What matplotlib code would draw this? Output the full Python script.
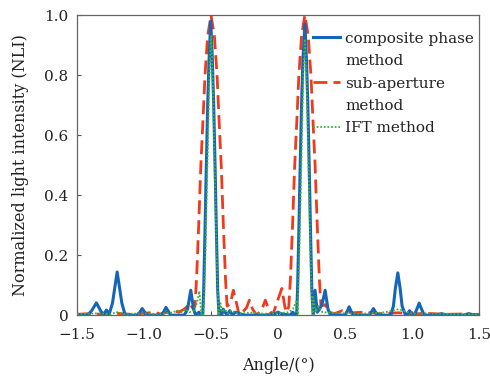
import matplotlib
matplotlib.use("Agg")
import matplotlib.pyplot as plt
from matplotlib.lines import Line2D

# ── Data (angle in degrees, normalized intensity) ──
x_composite = [-1.5, -1.42, -1.39, -1.355, -1.32, -1.30, -1.28, -1.26, -1.235, -1.20, -1.165,
               -1.14, -1.05, -1.03, -1.013, -0.995, -0.975, -0.87, -0.852, -0.836, -0.818,
               -0.80, -0.70, -0.675, -0.651, -0.63, -0.615, -0.59, -0.575,
               -0.562, -0.555, -0.545, -0.535, -0.525, -0.515, -0.502, -0.49, -0.48, -0.47,
               -0.46, -0.45, -0.44, -0.43, -0.42, -0.41, -0.38, -0.36, -0.34, -0.32,
               -0.25, -0.10, -0.02, 0.0, 0.02, 0.09, 0.11, 0.125,
               0.138, 0.145, 0.155, 0.165, 0.175, 0.185, 0.20, 0.212, 0.222, 0.232,
               0.242, 0.252, 0.262, 0.276, 0.292, 0.31, 0.33, 0.351, 0.372, 0.39,
               0.50, 0.515, 0.53, 0.545, 0.56, 0.68, 0.695, 0.711, 0.727, 0.74,
               0.84, 0.86, 0.875, 0.893, 0.91, 0.925, 0.95, 0.965, 0.98, 0.995,
               1.015, 1.035, 1.052, 1.07, 1.09, 1.18, 1.22, 1.26, 1.38, 1.42, 1.46, 1.5]
y_composite = [0.0, 0.0, 0.015, 0.041, 0.012, 0.003, 0.017, 0.003, 0.04, 0.144, 0.04,
               0.0, 0.0, 0.01, 0.022, 0.01, 0.0, 0.0, 0.012, 0.026, 0.012,
               0.0, 0.0, 0.02, 0.083, 0.02, 0.0, 0.01, 0.0,
               0.0, 0.08, 0.28, 0.5, 0.7, 0.85, 0.98, 0.85, 0.7, 0.5,
               0.28, 0.08, 0.0, 0.015, 0.0, 0.02, 0.0, 0.015, 0.0, 0.01,
               0.0, 0.0, 0.005, 0.01, 0.005, 0.0, 0.01, 0.0,
               0.0, 0.08, 0.28, 0.5, 0.7, 0.85, 0.97, 0.85, 0.7, 0.5,
               0.28, 0.08, 0.0, 0.083, 0.01, 0.02, 0.04, 0.083, 0.02, 0.0,
               0.0, 0.012, 0.028, 0.012, 0.0, 0.0, 0.01, 0.022, 0.01, 0.0,
               0.0, 0.03, 0.09, 0.141, 0.09, 0.03, 0.0, 0.005, 0.015, 0.005,
               0.0, 0.02, 0.04, 0.02, 0.0, 0.0, 0.005, 0.0, 0.0, 0.005, 0.0, 0.0]

x_subaperture = [-1.5, -1.4, -1.3, -1.2, -1.1, -1.0, -0.92, -0.88, -0.84, -0.78, -0.74,
                 -0.70, -0.675, -0.657, -0.64, -0.63,
                 -0.62, -0.608, -0.592, -0.576, -0.56, -0.545, -0.525, -0.50,
                 -0.475, -0.455, -0.44, -0.424, -0.408, -0.392, -0.38,
                 -0.355, -0.334, -0.31, -0.29, -0.265, -0.235, -0.214, -0.19, -0.16,
                 -0.12, -0.095, -0.07, -0.04, -0.01, 0.028, 0.05, 0.06, 0.07,
                 0.08, 0.092, 0.108, 0.124, 0.14, 0.155, 0.175, 0.20,
                 0.225, 0.245, 0.26, 0.276, 0.292, 0.308, 0.32,
                 0.35, 0.38, 0.42, 0.48, 0.55, 0.65, 0.75, 0.9, 1.0, 1.1, 1.25, 1.4, 1.5]
y_subaperture = [0.003, 0.005, 0.002, 0.006, 0.003, 0.006, 0.01, 0.004, 0.008, 0.015, 0.01,
                 0.02, 0.03, 0.04, 0.025, 0.02,
                 0.03, 0.12, 0.3, 0.5, 0.65, 0.8, 0.93, 1.0,
                 0.93, 0.8, 0.65, 0.5, 0.3, 0.12, 0.03,
                 0.04, 0.083, 0.04, 0.0, 0.01, 0.025, 0.05, 0.02, 0.0,
                 0.02, 0.05, 0.02, 0.0, 0.04, 0.089, 0.03, 0.01, 0.015,
                 0.03, 0.12, 0.3, 0.5, 0.65, 0.8, 0.93, 1.0,
                 0.93, 0.8, 0.65, 0.5, 0.3, 0.12, 0.03,
                 0.035, 0.01, 0.005, 0.015, 0.008, 0.01, 0.005, 0.008, 0.004, 0.006, 0.003, 0.004, 0.002]

x_ift = [-1.5, -1.35, -1.25, -1.2, -1.15, -1.0, -0.9, -0.8, -0.75, -0.72, -0.69, -0.66,
         -0.63, -0.605, -0.587, -0.572,
         -0.558, -0.552, -0.542, -0.532, -0.522, -0.512, -0.50, -0.488, -0.478, -0.468,
         -0.458, -0.448, -0.442,
         -0.43, -0.415, -0.40, -0.37, -0.35, -0.3, -0.2, -0.1, 0.0, 0.08, 0.11, 0.14, 0.153,
         0.142, 0.148, 0.158, 0.168, 0.178, 0.188, 0.20, 0.212, 0.222, 0.232,
         0.242, 0.252, 0.258,
         0.262, 0.28, 0.30, 0.33, 0.4, 0.5, 0.6, 0.7, 0.8, 0.9, 1.0, 1.1, 1.3, 1.5]
y_ift = [0.004, 0.006, 0.004, 0.01, 0.004, 0.006, 0.004, 0.008, 0.015, 0.01, 0.02, 0.01,
         0.015, 0.04, 0.08, 0.0,
         0.0, 0.05, 0.2, 0.4, 0.6, 0.8, 0.93, 0.8, 0.6, 0.4,
         0.2, 0.05, 0.0,
         0.04, 0.01, 0.02, 0.005, 0.015, 0.005, 0.008, 0.005, 0.006, 0.01, 0.02, 0.05, 0.0,
         0.0, 0.05, 0.2, 0.4, 0.6, 0.8, 0.92, 0.8, 0.6, 0.4,
         0.2, 0.05, 0.0,
         0.06, 0.01, 0.03, 0.01, 0.008, 0.006, 0.005, 0.006, 0.01, 0.02, 0.005, 0.006, 0.004, 0.003]

x_ticks = [-1.5, -1.0, -0.5, 0, 0.5, 1.0, 1.5]
x_ticklabels = ["\u22121.5", "\u22121.0", "\u22120.5", "0", "0.5", "1.0", "1.5"]
y_ticks = [0, 0.2, 0.4, 0.6, 0.8, 1.0]
y_ticklabels = ["0", "0.2", "0.4", "0.6", "0.8", "1.0"]
legend_lines = ["composite phase", "method", "sub-aperture", "method", "IFT method"]

plt.rcParams["font.family"] = ["DejaVu Serif"]

fig = plt.figure(figsize=(4.9, 3.77), dpi=100)
ax = fig.add_axes([0.157, 0.164, 0.821, 0.796])

h1, = ax.plot(x_composite, y_composite, color="#1565b8", lw=2.2, zorder=3)
h2, = ax.plot(x_subaperture, y_subaperture, color="#f03a1c", lw=2.0, ls=(0, (5, 2.2)), zorder=2)
h3, = ax.plot(x_ift, y_ift, color="#3cb43c", lw=1.3, ls=(0, (1, 1)), zorder=4)

ax.set_xlim(-1.5, 1.5)
ax.set_ylim(0, 1.0)
ax.set_xticks(x_ticks)
ax.set_xticklabels(x_ticklabels)
ax.set_yticks(y_ticks)
ax.set_yticklabels(y_ticklabels)
ax.tick_params(direction="in", length=3, width=0.8, colors="#555555", labelcolor="#222222",
               labelsize=11)
ax.tick_params(axis="x", pad=9)
ax.tick_params(axis="y", pad=6)
for sp in ax.spines.values():
    sp.set_color("#666666")
    sp.set_linewidth(0.9)

ax.set_xlabel("Angle/(\u00b0)", fontsize=11.5, color="#222222", labelpad=11)
ax.set_ylabel("Normalized light intensity (NLI)", fontsize=11.5, color="#222222", labelpad=11)

# two-line labels: handle sits beside the first line, so use blank entries
blank = Line2D([], [], color="none")
leg = ax.legend([h1, blank, h2, blank, h3], legend_lines, loc="upper right",
                bbox_to_anchor=(1.01, 0.975), frameon=False, fontsize=11,
                handlelength=1.75, handletextpad=0.35, labelspacing=0.55, borderaxespad=0.2)
for t in leg.get_texts():
    t.set_color("#222222")

fig.savefig("out.png", dpi=100)
